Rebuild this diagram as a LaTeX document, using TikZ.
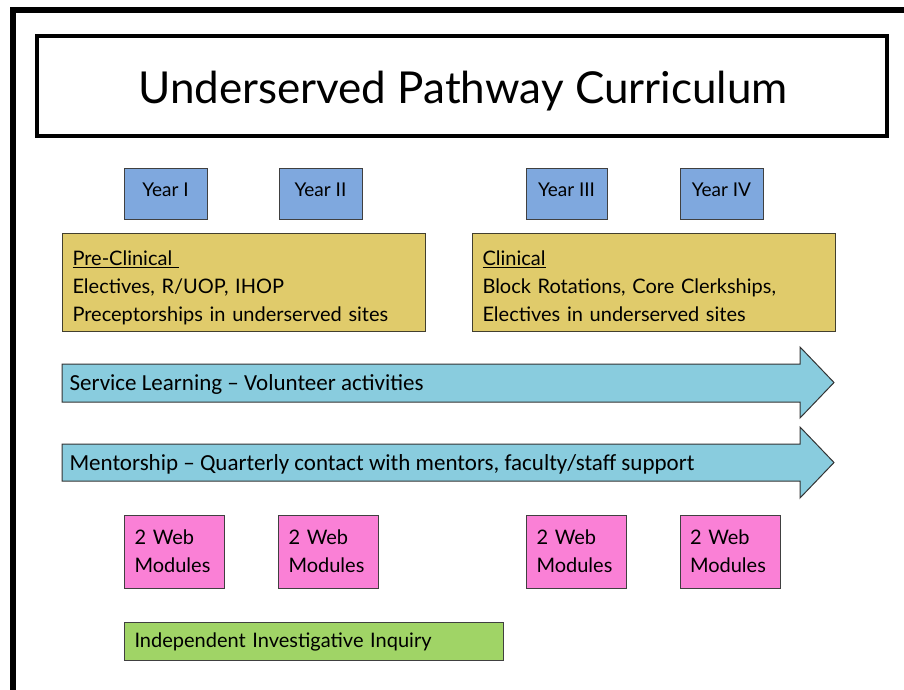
\documentclass[tikz,border=0pt]{standalone}
\usepackage{fontspec}
\setmainfont{Lato}
\newfontfamily\calfont{Carlito}
\usepackage{tikz}

\definecolor{yearblue}{HTML}{7FA8DE}
\definecolor{phasegold}{HTML}{E0CB6B}
\definecolor{bandcyan}{HTML}{89CCDE}
\definecolor{webpink}{HTML}{FA80D6}
\definecolor{inqgreen}{HTML}{A0D466}

\begin{document}
\begin{tikzpicture}[x=1pt,y=-1pt,
  yearbox/.style={draw=black!75, fill=yearblue, line width=1pt, minimum height=51pt,
    text depth=7pt, font=\fontsize{19}{22}\selectfont},
  phasebox/.style={draw=black!70!olive, fill=phasegold, line width=1pt, anchor=north west,
    text width=343pt, inner xsep=10pt, minimum height=98pt, align=left,
    font=\fontsize{20}{28}\selectfont},
  band/.style={draw=black!80, fill=bandcyan, line width=1pt},
  bandtext/.style={anchor=west, font=\calfont\fontsize{23}{26}\selectfont},
  webbox/.style={draw=black!75, fill=webpink, line width=1pt, minimum height=73pt,
    text width=80pt, inner xsep=10pt, align=left, font=\fontsize{20}{28}\selectfont}]
\useasboundingbox (0,0) rectangle (904,690);

% outer frame
\draw[line width=6pt] (13,690) -- (13,10) -- (904,10);

% title
\node[draw, line width=3.5pt, minimum width=850pt, minimum height=100pt] (titlebox) at (462,86) {};
\node[font=\fontsize{44}{48}\selectfont] (title) at (463,91) {Underserved Pathway Curriculum};

% years
\node[yearbox, minimum width=83pt] (y1) at (165.5,193.5) {Year I};
\node[yearbox, minimum width=83pt] (y2) at (320.5,193.5) {Year II};
\node[yearbox, minimum width=81pt] (y3) at (566.5,193.5) {Year III};
\node[yearbox, minimum width=83pt] (y4) at (721.5,193.5) {Year IV};

% phases
\node[phasebox] (pre) at (62,233) {\rule{0pt}{26pt}\underline{Pre-Clinical~}\\Electives, R/UOP, IHOP\\Preceptorships in underserved sites};
\node[phasebox] (clin) at (472,233) {\rule{0pt}{22pt}\underline{Clinical}\\Block Rotations, Core Clerkships,\\Electives in underserved sites};

% bands across all four years
\draw[band] (62,364) -- (800,364) -- (800,347) -- (834,382.5) -- (800,418) -- (800,402) -- (62,402) -- cycle;
\node[bandtext] (serv) at (66,384) {Service Learning – Volunteer activities};

\draw[band] (62,444) -- (800,444) -- (800,427) -- (834,462.5) -- (800,498) -- (800,481) -- (62,481) -- cycle;
\node[bandtext] (ment) at (66,464) {Mentorship – Quarterly contact with mentors, faculty/staff support};

% web modules
\node[webbox] (w1) at (174.5,551.5) {2 Web\\Modules};
\node[webbox] (w2) at (328.5,551.5) {2 Web\\Modules};
\node[webbox] (w3) at (576.5,551.5) {2 Web\\Modules};
\node[webbox] (w4) at (730,551.5) {2 Web\\Modules};

% inquiry
\node[draw=black!75, fill=inqgreen, line width=1pt, anchor=north west, minimum height=38pt,
  text width=359pt, inner xsep=10pt, align=left, font=\fontsize{20}{22}\selectfont]
  (inq) at (124,622) {Independent Investigative Inquiry};
\end{tikzpicture}
\end{document}
